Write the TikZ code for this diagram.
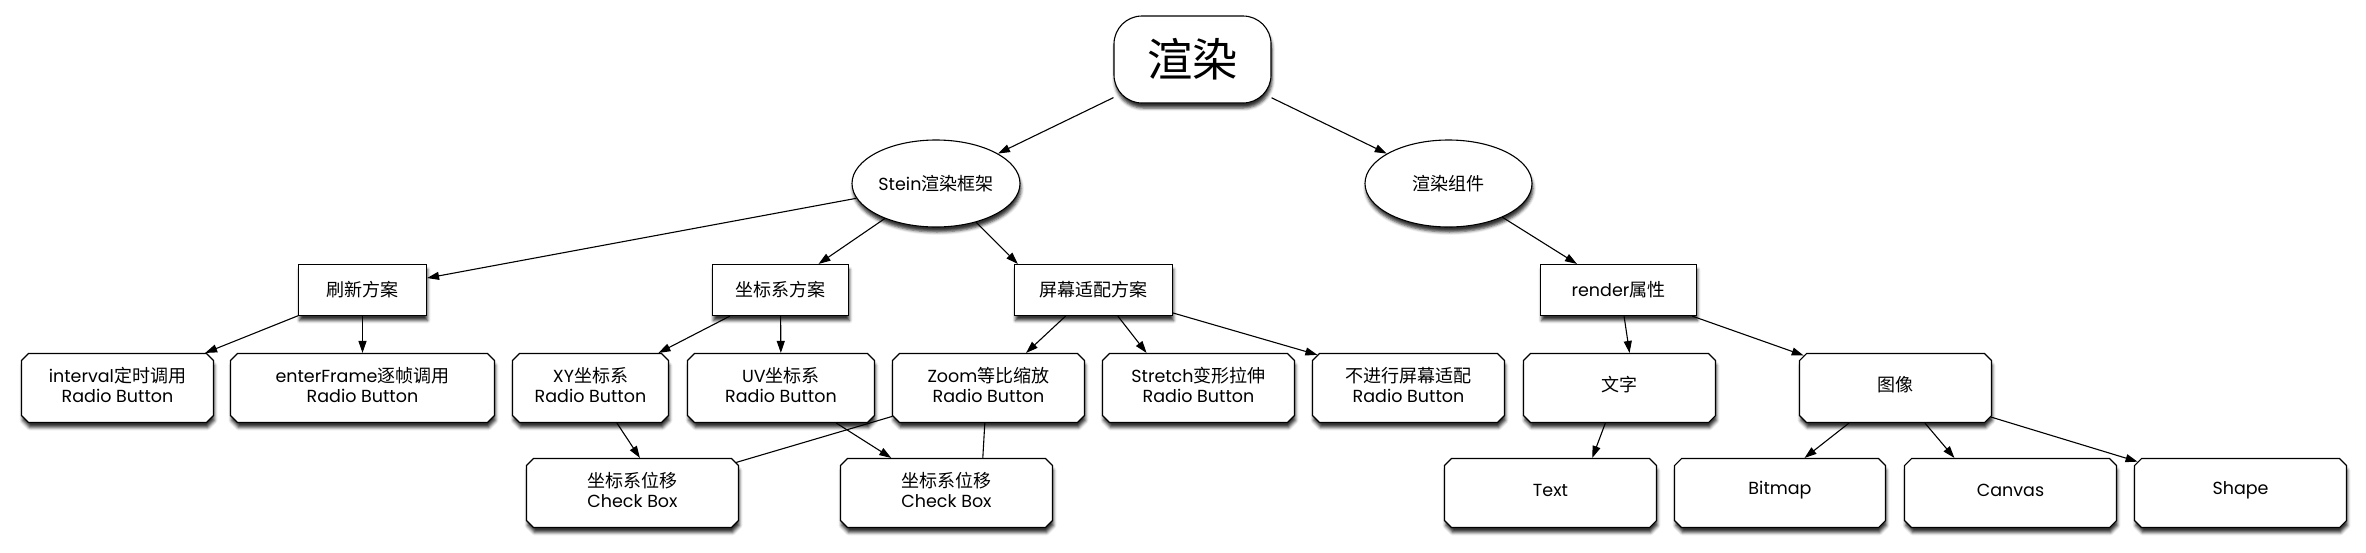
\documentclass[tikz,border=0pt]{standalone}
\usepackage{fontspec}
\setmainfont{Poppins}
\newfontfamily\zh[Scale=1.03]{Noto Sans CJK SC}
\usetikzlibrary{arrows.meta,shapes.geometric,shapes.misc,shadows.blur}

% label of a chamfered box: fixed inner size
\newcommand\optlabel[2][185pt]{\parbox[c][62pt][c]{#1}{\centering #2\par\vspace{6pt}}}

\begin{document}
\begin{tikzpicture}[
        x=1pt, y=-1pt,
        >={Triangle[length=12pt,width=8pt]},
        every node/.style={align=center, font=\fontsize{17.5}{19.5}\selectfont},
        every path/.style={line width=1.1pt},
        shade/.style={blur shadow={shadow xshift=1pt, shadow yshift=-5pt, shadow opacity=80, shadow blur radius=3pt}},
        root/.style={draw, fill=white, shade, rounded corners=28pt, minimum width=157pt, minimum height=87pt, inner sep=0pt, font=\fontsize{44}{50}\selectfont},
        frame/.style={draw, fill=white, shade, ellipse, minimum width=168pt, minimum height=87pt, inner sep=0pt},
        plan/.style={draw, fill=white, shade, rectangle, minimum height=51pt, inner sep=0pt},
        option/.style={draw, fill=white, shade, chamfered rectangle, chamfered rectangle xsep=3.5pt, chamfered rectangle ysep=3.5pt, inner sep=0pt}
    ]

    \useasboundingbox (0,0) rectangle (2366,552);

    % Nodes
    \node (root)[root] at (1192.5,59.5) {\zh 渲染};

    \node (stein)[frame] at (936,183.5) {Stein{\zh 渲染框架}};
    \node (comp)[frame, minimum width=167pt] at (1448.5,183.5) {\zh 渲染组件};

    \node (refresh)[plan, minimum width=128pt] at (362.5,290) {\zh 刷新方案};
    \node (coord)[plan, minimum width=136pt] at (780.5,290) {\zh 坐标系方案};
    \node (screen)[plan, minimum width=158pt] at (1093.5,290) {\zh 屏幕适配方案};
    \node (render)[plan, minimum width=156pt] at (1618.5,290) {render{\zh 属性}};

    \node (interval)[option] at (117.5,388) {\optlabel{interval{\zh 定时调用}\\Radio Button}};
    \node (enterframe)[option] at (362.5,388) {\optlabel[257pt]{enterFrame{\zh 逐帧调用}\\Radio Button}};
    \node (xy)[option] at (590.5,388) {\optlabel[149pt]{XY{\zh 坐标系}\\Radio Button}};
    \node (uv)[option] at (781,388) {\optlabel[180pt]{UV{\zh 坐标系}\\Radio Button}};
    \node (zoomrb)[option] at (988.5,388) {\optlabel{Zoom{\zh 等比缩放}\\Radio Button}};
    \node (stretch)[option] at (1198.5,388) {\optlabel{Stretch{\zh 变形拉伸}\\Radio Button}};
    \node (noadapt)[option] at (1408.5,388) {\optlabel{{\zh 不进行屏幕适配}\\Radio Button}};
    \node (word)[option] at (1619.5,388) {\optlabel{\zh 文字}};
    \node (image)[option] at (1895.5,388) {\optlabel{\zh 图像}};

    \node (cbxy)[option] at (632.5,493) {\optlabel[205pt]{{\zh 坐标系位移}\\Check Box}};
    \node (cbuv)[option] at (946.5,493) {\optlabel[205pt]{{\zh 坐标系位移}\\Check Box}};
    \node (text)[option] at (1550.5,493) {\optlabel[205pt]{Text}};
    \node (bitmap)[option] at (1780,493) {\optlabel[204pt]{Bitmap}};
    \node (canvas)[option] at (2010.5,493) {\optlabel[205pt]{Canvas}};
    \node (shape)[option] at (2240.5,493) {\optlabel[205pt]{Shape}};

    % Edges
    \draw[->] (root) -- (stein);
    \draw[->] (root) -- (comp);
    \draw[->] (stein) -- (refresh);
    \draw[->] (stein) -- (coord);
    \draw[->] (stein.-44) -- (screen.161);
    \draw[->] (comp) -- (render);

    \draw[->] (refresh) -- (interval);
    \draw[->] (refresh) -- (enterframe);
    \draw[->] (coord) -- (xy);
    \draw[->] (coord) -- (uv);
    \draw[->] (screen) -- (zoomrb);
    \draw[->] (screen.-47) -- (stretch.146);
    \draw[->] (screen) -- (noadapt.160);
    \draw[->] (render.-78) -- (word.74);
    \draw[->] (render) -- (image);

    \draw[->] (xy.-53) -- (cbxy.78);
    \draw[->] (uv) -- (cbuv);
    \draw (zoomrb) -- (cbxy);
    \draw (zoomrb.-96) -- (cbuv.44);
    \draw[->] (word.-112) -- (text.40);
    \draw[->] (image.-143) -- (bitmap.55);
    \draw[->] (image.-50) -- (canvas.148);
    \draw[->] (image) -- (shape);

\end{tikzpicture}
\end{document}
